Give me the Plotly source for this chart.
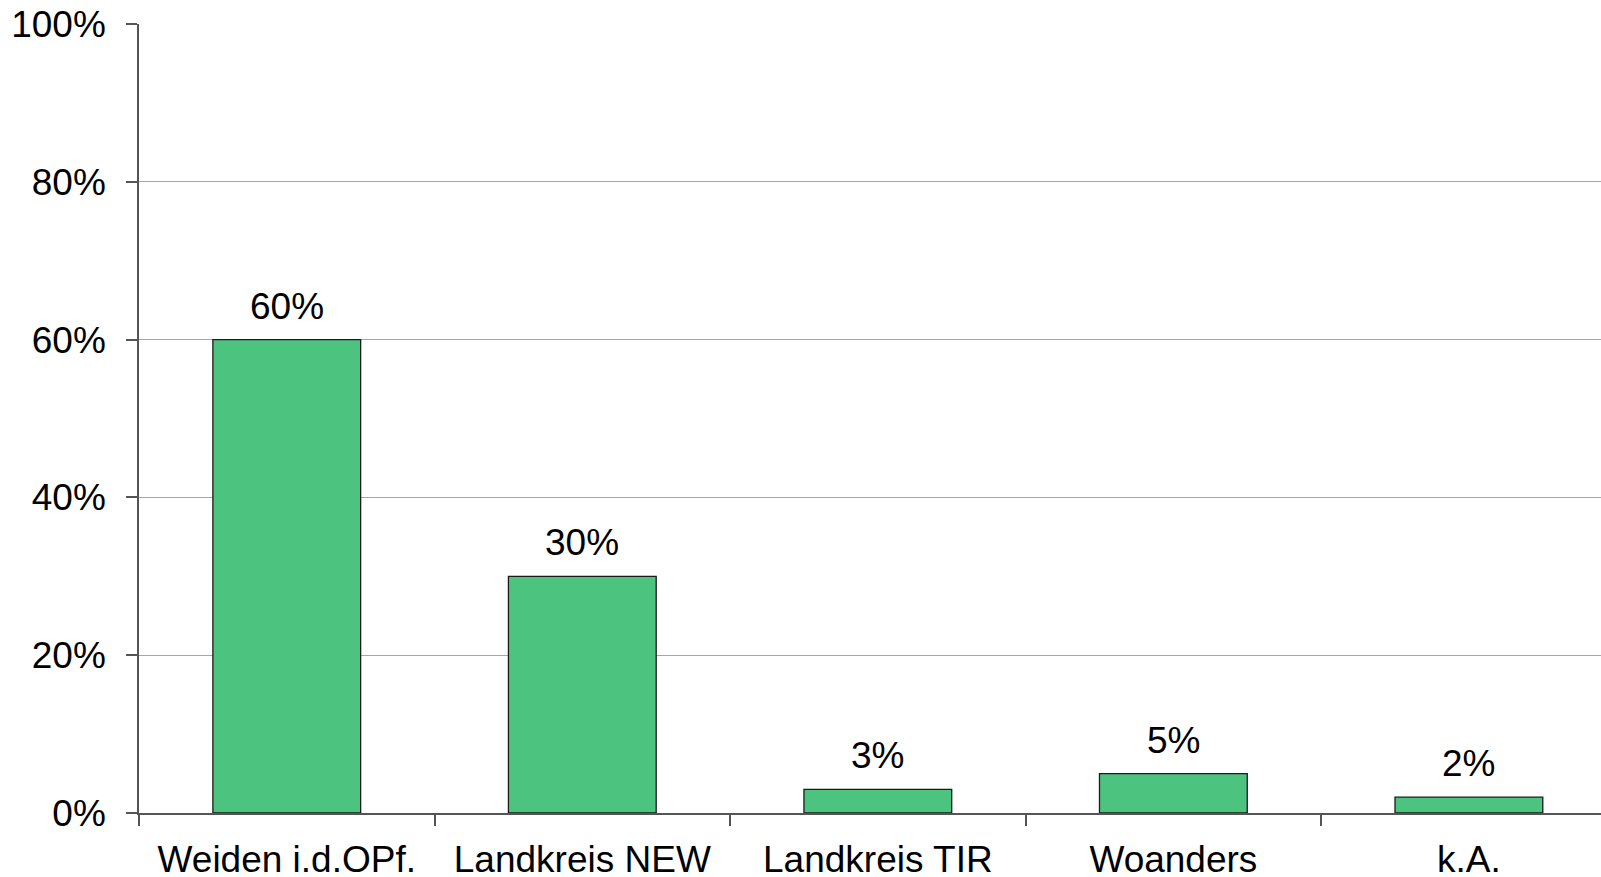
import plotly.graph_objects as go

categories = ["Weiden i.d.OPf.", "Landkreis NEW", "Landkreis TIR", "Woanders", "k.A."]
values = [60, 30, 3, 5, 2]
labels = ["60%", "30%", "3%", "5%", "2%"]
y_ticks = [0, 20, 40, 60, 80, 100]
y_ticklabels = ["0%", "20%", "40%", "60%", "80%", "100%"]

FONT = "Arial, 'Liberation Sans', sans-serif"
FS = 37

fig = go.Figure(go.Bar(
    x=categories, y=values,
    marker=dict(color="#4CC47F", line=dict(color="#1a1a1a", width=1.3)),
    width=0.5, cliponaxis=False,
))

for c, v, t in zip(categories, values, labels):
    fig.add_annotation(x=c, y=v, text=t, showarrow=False, yanchor="bottom",
                       yshift=11, font=dict(size=FS, family=FONT, color="black"))

fig.update_layout(
    width=1601, height=877,
    margin=dict(l=139, r=0, t=24, b=64, autoexpand=False),
    plot_bgcolor="white", paper_bgcolor="white",
    font=dict(family=FONT, size=FS, color="black"),
    showlegend=False,
)
fig.update_xaxes(
    range=[-0.5, 4.447], showgrid=False, showline=True, linecolor="#555555", linewidth=1.5,
    ticks="outside", tickson="boundaries", ticklen=11, tickcolor="#555555", tickwidth=1.5,
    tickfont=dict(size=FS, family=FONT, color="black"), automargin=False,
    ticklabelstandoff=13,
)
fig.update_yaxes(
    range=[0, 100], tickvals=y_ticks, ticktext=y_ticklabels,
    showgrid=True, gridcolor="#a6a6a6", gridwidth=1.3,
    showline=True, linecolor="#555555", linewidth=1.5,
    ticks="outside", ticklen=11, tickcolor="#555555", tickwidth=1.5,
    tickfont=dict(size=FS, family=FONT, color="black"), automargin=False,
    zeroline=False, ticklabelstandoff=13,
)

fig.write_html("out.html", config={"displayModeBar": False},
               post_script="document.body.style.margin='0px';document.body.style.overflow='hidden';")
